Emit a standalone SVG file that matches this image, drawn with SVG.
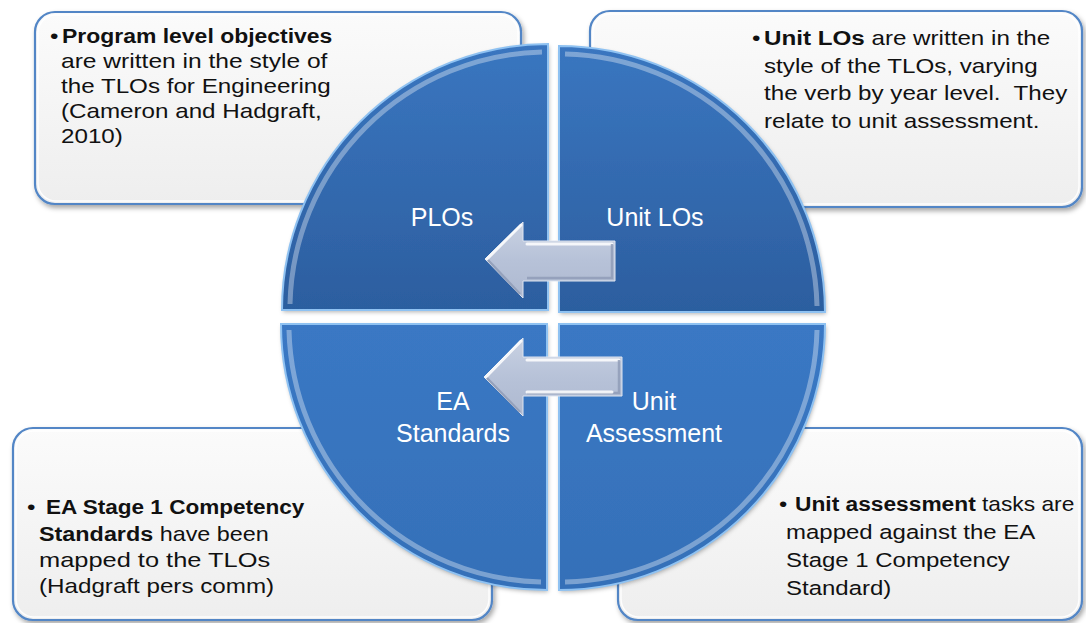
<svg xmlns="http://www.w3.org/2000/svg" width="1086" height="623" viewBox="0 0 1086 623">
<defs>
<linearGradient id="boxFill" x1="0" y1="0" x2="0" y2="1">
<stop offset="0" stop-color="#fbfbfb"/>
<stop offset="1" stop-color="#eeeeee"/>
</linearGradient>
<linearGradient id="qTop" x1="0" y1="0" x2="0" y2="1">
<stop offset="0" stop-color="#3a76c0"/>
<stop offset="1" stop-color="#2c5e9f"/>
</linearGradient>
<linearGradient id="qBot" x1="0" y1="0" x2="0" y2="1">
<stop offset="0" stop-color="#3a78c4"/>
<stop offset="1" stop-color="#3570b8"/>
</linearGradient>
<linearGradient id="arrowFill" x1="0" y1="0" x2="0" y2="1">
<stop offset="0" stop-color="#c9d2e3"/>
<stop offset="0.5" stop-color="#b7c2d8"/>
<stop offset="1" stop-color="#aeb9d0"/>
</linearGradient>
<filter id="shadow" x="-10%" y="-10%" width="120%" height="125%">
<feDropShadow dx="2" dy="3" stdDeviation="2.5" flood-color="#000" flood-opacity="0.35"/>
</filter>
<filter id="qshadow" x="-10%" y="-10%" width="120%" height="120%">
<feDropShadow dx="1" dy="2" stdDeviation="2" flood-color="#000" flood-opacity="0.3"/>
</filter>
</defs>
<style>
.box{fill:url(#boxFill);stroke:#5286c6;stroke-width:2.2;filter:url(#shadow)}
.boxin{fill:none;stroke:#ffffff;stroke-width:1.5;opacity:0.9}
.t{font-family:"Liberation Sans",Arial,sans-serif;font-size:20.5px;fill:#111}
.b{font-weight:bold}
.lbl{font-family:"Liberation Sans",Arial,sans-serif;font-size:25px;fill:#ffffff;text-anchor:middle}
.quad{filter:url(#qshadow)}
.bev{fill:none;stroke:#8fc2f2;stroke-width:2}
.bev2{fill:none;stroke:#ffffff;stroke-opacity:0.35;stroke-width:5}
.arrow{fill:url(#arrowFill);stroke:#dfe5f0;stroke-width:1}
.hl{fill:none;stroke:#ffffff;stroke-width:3;stroke-linecap:round;opacity:0.85}
.sh{fill:none;stroke:#8d9ab5;stroke-width:2.5;opacity:0.8}
</style>

<g id="box-plo">
<rect class="box" x="35" y="12" width="486" height="192" rx="20" ry="20"/>
<rect class="boxin" x="38" y="15" width="480" height="186" rx="18" ry="18"/>
<text class="t" transform="translate(50,43) scale(1.18,1)">•</text>
<text class="t b" transform="translate(62,43) scale(1.12,1)">Program level objectives</text>
<text class="t" transform="translate(61,68) scale(1.2,1)">are written in the style of</text>
<text class="t" transform="translate(61,93) scale(1.18,1)">the TLOs for Engineering</text>
<text class="t" transform="translate(61,118) scale(1.18,1)">(Cameron and Hadgraft,</text>
<text class="t" transform="translate(61,143) scale(1.18,1)">2010)</text>
</g>

<g id="box-ulo">
<rect class="box" x="590" y="11" width="492" height="196" rx="20" ry="20"/>
<rect class="boxin" x="593" y="14" width="486" height="190" rx="18" ry="18"/>
<text class="t" transform="translate(752,45) scale(1.18,1)">•</text>
<text class="t" transform="translate(764,45) scale(1.18,1)"><tspan class="b">Unit LOs</tspan> are written in the</text>
<text class="t" transform="translate(764,73) scale(1.18,1)">style of the TLOs, varying</text>
<text class="t" transform="translate(764,100) scale(1.18,1)">the verb by year level.&#160; They</text>
<text class="t" transform="translate(764,128) scale(1.18,1)">relate to unit assessment.</text>
</g>

<g id="box-ea">
<rect class="box" x="13" y="428" width="479" height="192" rx="20" ry="20"/>
<rect class="boxin" x="16" y="431" width="473" height="186" rx="18" ry="18"/>
<text class="t" transform="translate(27,514) scale(1.18,1)">•</text>
<text class="t b" transform="translate(46,514) scale(1.1,1)">EA Stage 1 Competency</text>
<text class="t" transform="translate(39,541) scale(1.14,1)"><tspan class="b">Standards</tspan> have been</text>
<text class="t" transform="translate(39,567) scale(1.24,1)">mapped to the TLOs</text>
<text class="t" transform="translate(39,593) scale(1.18,1)">(Hadgraft pers comm)</text>
</g>

<g id="box-ua">
<rect class="box" x="618" y="428" width="464" height="192" rx="20" ry="20"/>
<rect class="boxin" x="621" y="431" width="458" height="186" rx="18" ry="18"/>
<text class="t" transform="translate(779,511) scale(1.15,1)">•</text>
<text class="t" transform="translate(795,511) scale(1.11,1)"><tspan class="b">Unit assessment</tspan> tasks are</text>
<text class="t" transform="translate(786,539) scale(1.17,1)">mapped against the EA</text>
<text class="t" transform="translate(786,567) scale(1.17,1)">Stage 1 Competency</text>
<text class="t" transform="translate(786,595) scale(1.17,1)">Standard)</text>
</g>

<g id="quad-plo">
<path class="quad" d="M548,310 L282,310 A266,266 0 0 1 548,44 Z" fill="url(#qTop)"/>
<path class="bev2" d="M290,304 A258,258 0 0 1 542,52"/>
<path class="bev" d="M548,310 L282,310 A266,266 0 0 1 548,44 Z"/>
<text class="lbl" x="442" y="226">PLOs</text>
</g>

<g id="quad-ulo">
<path class="quad" d="M559,312 L559,46 A266,266 0 0 1 825,312 Z" fill="url(#qTop)"/>
<path class="bev2" d="M565,54 A258,258 0 0 1 817,306"/>
<path class="bev" d="M559,312 L559,46 A266,266 0 0 1 825,312 Z"/>
<text class="lbl" x="655" y="226">Unit LOs</text>
</g>

<g id="quad-ea">
<path class="quad" d="M547,324 L547,590 A266,266 0 0 1 281,324 Z" fill="url(#qBot)"/>
<path class="bev2" d="M541,582 A258,258 0 0 1 289,330"/>
<path class="bev" d="M547,324 L547,590 A266,266 0 0 1 281,324 Z"/>
<text class="lbl" x="453" y="410">EA</text>
<text class="lbl" x="453" y="442">Standards</text>
</g>

<g id="quad-ua">
<path class="quad" d="M559,324 L825,324 A266,266 0 0 1 559,590 Z" fill="url(#qBot)"/>
<path class="bev2" d="M817,330 A258,258 0 0 1 565,582"/>
<path class="bev" d="M559,324 L825,324 A266,266 0 0 1 559,590 Z"/>
<text class="lbl" x="654" y="410">Unit</text>
<text class="lbl" x="654" y="442">Assessment</text>
</g>

<g id="connectors">
<g id="arrow-top">
<path class="arrow" d="M485,259 L523,222 L523,241 L615,241 L615,281 L523,281 L523,298 Z"/>
<path class="hl" d="M487,259 L521,225"/>
<path class="hl" d="M527,244 L612,244"/>
<path class="sh" d="M527,278 L612,278 L612,244"/>
<path class="sh" d="M488,260 L520,294"/>
</g>
<g id="arrow-bottom">
<path class="arrow" d="M484,377 L523,338 L523,357 L622,357 L622,396 L523,396 L523,416 Z"/>
<path class="hl" d="M486,377 L521,341"/>
<path class="hl" d="M527,360 L619,360"/>
<path class="sh" d="M527,393 L619,393 L619,360"/>
<path class="hl" d="M527,392 L612,392"/>
<path class="sh" d="M487,378 L520,412"/>
</g>
</g>
</svg>
